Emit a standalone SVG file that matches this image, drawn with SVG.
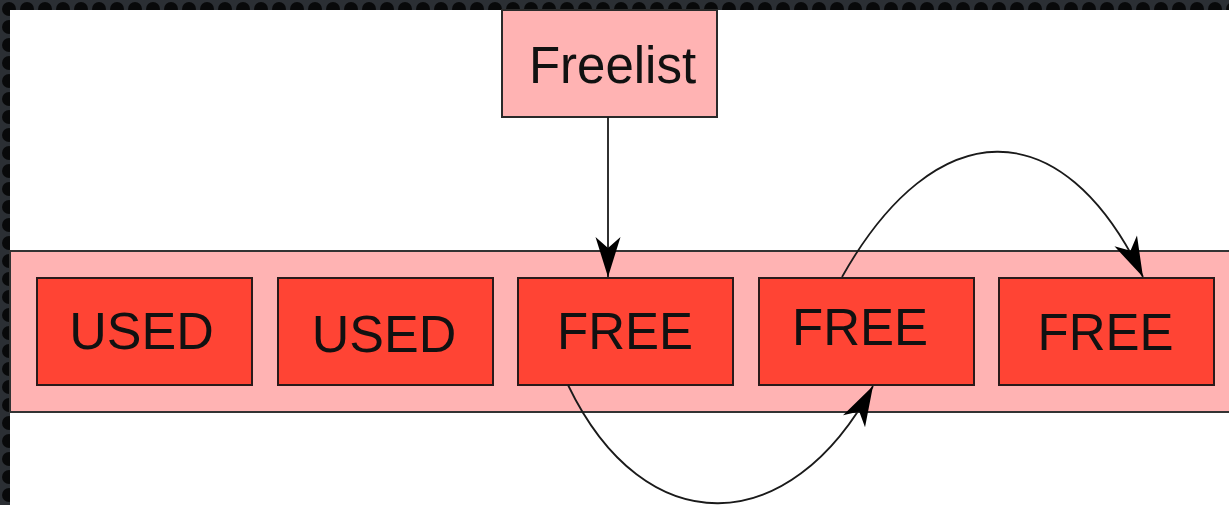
<svg xmlns="http://www.w3.org/2000/svg" width="1229" height="505" viewBox="0 0 1229 505">
  <defs>
    <!-- dark scalloped frame texture -->
    <pattern id="frame" width="18" height="18" patternUnits="userSpaceOnUse">
      <rect width="18" height="18" fill="#2b2f34"/>
      <circle cx="9" cy="9" r="7" fill="#08090a"/>
    </pattern>
    <!-- notched (stealth) arrowhead -->
    <marker id="head" markerUnits="userSpaceOnUse" markerWidth="44" markerHeight="30" viewBox="-42 -14 44 28" refX="0" refY="0" orient="auto">
      <path d="M0,0 L-40,-12.5 L-29,0 L-40,12.5 Z" fill="#000"/>
    </marker>
    <style>
      .band { fill: #ffb3b3; stroke: #333; stroke-width: 2; }
      .cell { fill: #ff4434; stroke: #2a1a1a; stroke-width: 2; }
      .head-box { fill: #ffb3b3; stroke: #2a2a2a; stroke-width: 2; }
      .lbl { font-family: "Liberation Sans", Arial, sans-serif; fill: #111; text-anchor: middle; }
      .link { fill: none; stroke: #1a1a1a; stroke-width: 1.8; }
    </style>
  </defs>

  <!-- page -->
  <rect x="0" y="0" width="1229" height="505" fill="url(#frame)"/>
  <rect x="10" y="10" width="1219" height="495" fill="#ffffff"/>

  <!-- memory strip -->
  <g id="heap">
    <rect class="band" x="10" y="251" width="1230" height="161"/>
  </g>

  <g id="freelist">
    <rect class="head-box" x="502" y="10" width="215" height="107"/>
    <text class="lbl" x="612.5" y="83" font-size="51">Freelist</text>
  </g>

  <g id="block1">
    <rect class="cell" x="37" y="278" width="215" height="107"/>
    <text class="lbl" x="141.5" y="349" font-size="52">USED</text>
  </g>

  <g id="block2">
    <rect class="cell" x="278" y="278" width="215" height="107"/>
    <text class="lbl" x="384" y="352" font-size="52">USED</text>
  </g>

  <g id="block3">
    <rect class="cell" x="518" y="278" width="215" height="107"/>
    <text class="lbl" x="625" y="349" font-size="51">FREE</text>
  </g>

  <g id="block4">
    <rect class="cell" x="759" y="278" width="215" height="107"/>
    <text class="lbl" x="860" y="345" font-size="51">FREE</text>
  </g>

  <g id="block5">
    <rect class="cell" x="999" y="278" width="215" height="107"/>
    <text class="lbl" x="1105.5" y="350" font-size="51">FREE</text>
  </g>

  <!-- links -->
  <g id="connectors">
    <path class="link" d="M608,117 L608,277" marker-end="url(#head)"/>
    <path class="link" d="M842,277 C935,112 1062,108 1143,277" marker-end="url(#head)"/>
    <path class="link" d="M568,385 C645,545 790,540 873,386" marker-end="url(#head)"/>
  </g>
</svg>
